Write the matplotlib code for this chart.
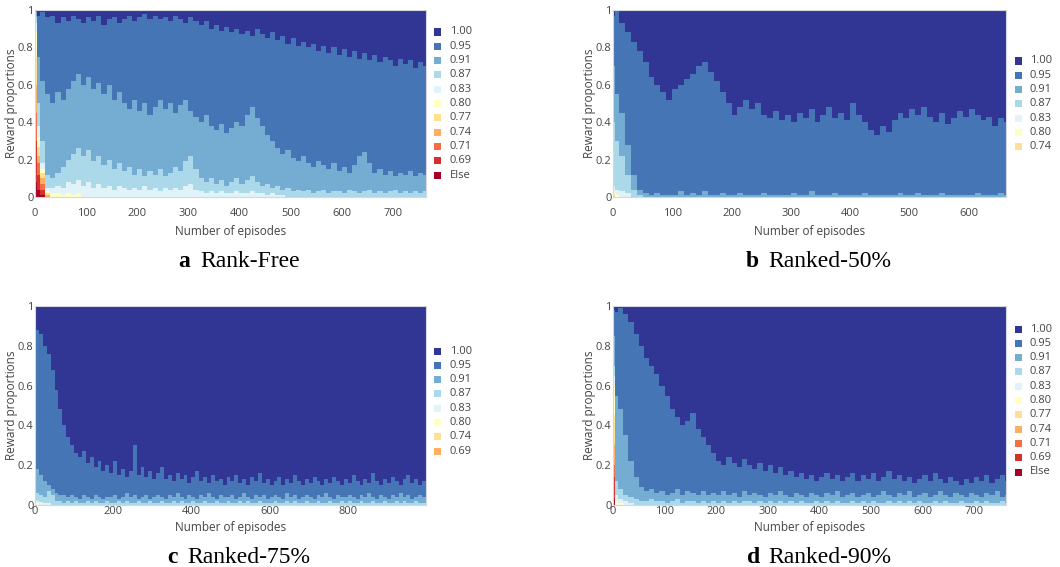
import numpy as np
import matplotlib.pyplot as plt
from matplotlib.patches import Rectangle

W, H = 1060, 567

# colour of each reward level, highest reward first (same order as legend)
PALETTE = ['#313695', '#4575b4', '#74add1', '#abd9e9', '#e0f3f8', '#ffffbf',
           '#fee090', '#fdae61', '#f46d43', '#d73027', '#a50026']

# ---------------- a : Rank-Free ----------------
a_levels = ['1.00', '0.95', '0.91', '0.87', '0.83', '0.80', '0.77', '0.74', '0.71', '0.69', 'Else']
a_episodes = [0, 3] + list(range(10, 770, 10))
# cumulative proportion of rewards at or below each level
a_le_095 = [1.00, 0.97, 0.99, 0.96, 0.97, 0.93, 0.96, 0.94, 0.97, 0.95,
            0.93, 0.96, 0.94, 0.97, 0.92, 0.95, 0.96, 0.93, 0.95, 0.97,
            0.94, 0.96, 0.98, 0.95, 0.97, 0.95, 0.96, 0.94, 0.97, 0.95,
            0.93, 0.96, 0.94, 0.92, 0.94, 0.90, 0.92, 0.89, 0.91, 0.88,
            0.90, 0.87, 0.89, 0.86, 0.90, 0.87, 0.85, 0.88, 0.84, 0.86,
            0.82, 0.85, 0.81, 0.83, 0.80, 0.82, 0.78, 0.81, 0.77, 0.80,
            0.76, 0.79, 0.75, 0.78, 0.74, 0.77, 0.73, 0.76, 0.72, 0.75,
            0.73, 0.70, 0.74, 0.71, 0.73, 0.69, 0.72, 0.70]
a_le_091 = [0.99, 0.75, 0.62, 0.55, 0.50, 0.56, 0.52, 0.58, 0.62, 0.66,
            0.60, 0.64, 0.58, 0.61, 0.55, 0.60, 0.52, 0.56, 0.50, 0.47,
            0.52, 0.46, 0.50, 0.44, 0.48, 0.52, 0.47, 0.50, 0.45, 0.49,
            0.52, 0.46, 0.43, 0.40, 0.44, 0.38, 0.36, 0.39, 0.34, 0.37,
            0.40, 0.38, 0.44, 0.48, 0.42, 0.38, 0.33, 0.30, 0.26, 0.23,
            0.25, 0.21, 0.19, 0.22, 0.18, 0.16, 0.19, 0.17, 0.15, 0.18,
            0.14, 0.16, 0.13, 0.17, 0.22, 0.24, 0.18, 0.13, 0.15, 0.12,
            0.14, 0.11, 0.13, 0.12, 0.14, 0.11, 0.13, 0.12]
a_le_087 = [0.96, 0.50, 0.30, 0.12, 0.10, 0.13, 0.16, 0.20, 0.23, 0.26,
            0.22, 0.25, 0.19, 0.22, 0.17, 0.20, 0.15, 0.18, 0.14, 0.16,
            0.12, 0.15, 0.11, 0.14, 0.12, 0.15, 0.11, 0.13, 0.16, 0.14,
            0.19, 0.22, 0.15, 0.10, 0.08, 0.10, 0.07, 0.09, 0.06, 0.08,
            0.10, 0.07, 0.09, 0.11, 0.08, 0.06, 0.07, 0.05, 0.06, 0.04,
            0.05, 0.03, 0.04, 0.03, 0.04, 0.02, 0.03, 0.04, 0.02, 0.03,
            0.03, 0.02, 0.04, 0.03, 0.02, 0.03, 0.04, 0.02, 0.03, 0.02,
            0.03, 0.04, 0.02, 0.03, 0.02, 0.03, 0.02, 0.03]
a_le_083 = [0.93, 0.38, 0.18, 0.05, 0.05, 0.06, 0.05, 0.08, 0.07, 0.09,
            0.06, 0.08, 0.05, 0.07, 0.05, 0.06, 0.04, 0.06, 0.05, 0.04,
            0.05, 0.04, 0.06, 0.04, 0.05, 0.03, 0.05, 0.04, 0.05, 0.04,
            0.06, 0.07, 0.04, 0.03, 0.02, 0.03, 0.02, 0.03, 0.02, 0.02,
            0.03, 0.02, 0.02, 0.03, 0.02, 0.02, 0.01, 0.02, 0.01, 0.01]
a_le_080 = [0.88, 0.32, 0.15, 0.03, 0.02, 0.02, 0.01, 0.02, 0.01, 0.02]
a_le_077 = [0.75, 0.27, 0.13, 0.02]
a_le_074 = [0.60, 0.22, 0.10, 0.01]
a_le_071 = [0.45, 0.18, 0.07]
a_le_069 = [0.30, 0.12, 0.04]
a_le_else = [0.08, 0.04, 0.01]

# ---------------- b : Ranked-50% ----------------
b_levels = ['1.00', '0.95', '0.91', '0.87', '0.83', '0.80', '0.74']
b_episodes = [0, 3] + list(range(10, 670, 10))
b_le_095 = [0.97, 1.00, 0.93, 0.88, 0.83, 0.78, 0.72, 0.64, 0.60, 0.56,
            0.52, 0.58, 0.60, 0.63, 0.66, 0.70, 0.72, 0.67, 0.62, 0.56,
            0.50, 0.44, 0.48, 0.52, 0.47, 0.50, 0.44, 0.42, 0.46, 0.41,
            0.44, 0.40, 0.45, 0.42, 0.47, 0.40, 0.44, 0.48, 0.42, 0.45,
            0.41, 0.50, 0.44, 0.40, 0.36, 0.33, 0.38, 0.35, 0.41, 0.45,
            0.42, 0.47, 0.44, 0.48, 0.43, 0.40, 0.45, 0.39, 0.42, 0.46,
            0.43, 0.47, 0.44, 0.41, 0.43, 0.38, 0.42, 0.40]
b_le_091 = [0.70, 0.55, 0.45, 0.28, 0.12, 0.04, 0.02, 0.01, 0.02, 0.01,
            0.01, 0.01, 0.03, 0.01, 0.02, 0.01, 0.03, 0.01, 0.01, 0.02,
            0.01, 0.01, 0.02, 0.01, 0.01, 0.01, 0.02, 0.01, 0.01, 0.01,
            0.01, 0.02, 0.01, 0.01, 0.03, 0.01, 0.01, 0.01, 0.02, 0.01,
            0.01, 0.01, 0.01, 0.02, 0.01, 0.01, 0.01, 0.01, 0.01, 0.02,
            0.01, 0.01, 0.02, 0.01, 0.01, 0.01, 0.02, 0.01, 0.01, 0.01,
            0.01, 0.01, 0.02, 0.01, 0.01, 0.01, 0.02, 0.01]
b_le_087 = [0.40, 0.30, 0.22, 0.12, 0.04, 0.01]
b_le_083 = [0.06, 0.04, 0.03, 0.02]
b_le_080 = [0.03, 0.01]
b_le_074 = [0.01]

# ---------------- c : Ranked-75% ----------------
c_levels = ['1.00', '0.95', '0.91', '0.87', '0.83', '0.80', '0.74', '0.69']
c_episodes = [0, 3] + list(range(10, 1000, 10))
c_le_095 = [0.90, 0.88, 0.86, 0.80, 0.76, 0.68, 0.58, 0.48, 0.40, 0.34,
            0.30, 0.26, 0.24, 0.27, 0.21, 0.24, 0.19, 0.22, 0.17, 0.20,
            0.16, 0.22, 0.15, 0.18, 0.14, 0.17, 0.30, 0.15, 0.19, 0.14,
            0.17, 0.13, 0.16, 0.19, 0.13, 0.15, 0.12, 0.16, 0.13, 0.15,
            0.11, 0.14, 0.17, 0.12, 0.14, 0.11, 0.15, 0.12, 0.13, 0.10,
            0.14, 0.12, 0.15, 0.11, 0.13, 0.10, 0.14, 0.12, 0.16, 0.11,
            0.13, 0.10, 0.12, 0.14, 0.10, 0.13, 0.11, 0.15, 0.12, 0.10,
            0.13, 0.11, 0.14, 0.12, 0.10, 0.13, 0.11, 0.14, 0.12, 0.10,
            0.13, 0.11, 0.15, 0.12, 0.10, 0.13, 0.11, 0.16, 0.12, 0.10,
            0.13, 0.11, 0.14, 0.12, 0.10, 0.13, 0.15, 0.11, 0.13, 0.10,
            0.12]
c_le_091 = [0.30, 0.18, 0.15, 0.12, 0.10, 0.08, 0.06, 0.05, 0.05, 0.04,
            0.05, 0.04, 0.03, 0.05, 0.04, 0.03, 0.05, 0.04, 0.03, 0.04,
            0.04, 0.05, 0.03, 0.04, 0.06, 0.04, 0.05, 0.03, 0.04, 0.05,
            0.03, 0.04, 0.05, 0.04, 0.03, 0.05, 0.04, 0.06, 0.04, 0.03,
            0.05, 0.04, 0.03, 0.05, 0.04, 0.06, 0.04, 0.03, 0.05, 0.04,
            0.04, 0.05, 0.03, 0.04, 0.06, 0.04, 0.03, 0.05, 0.04, 0.05,
            0.03, 0.04, 0.05, 0.04, 0.03, 0.06, 0.04, 0.05, 0.03, 0.04,
            0.05, 0.04, 0.03, 0.05, 0.04, 0.06, 0.04, 0.03, 0.05, 0.04,
            0.04, 0.05, 0.04, 0.03, 0.05, 0.04, 0.06, 0.04, 0.03, 0.05,
            0.04, 0.03, 0.05, 0.04, 0.06, 0.04, 0.05, 0.03, 0.04, 0.05,
            0.04]
c_le_087 = [0.18, 0.06, 0.05, 0.04, 0.07, 0.05, 0.02, 0.02, 0.01, 0.02,
            0.01, 0.02, 0.01, 0.01, 0.02, 0.01, 0.02, 0.01, 0.01, 0.02,
            0.01, 0.01, 0.02, 0.01, 0.02, 0.01, 0.01, 0.02, 0.01, 0.01,
            0.02, 0.01, 0.01, 0.02, 0.01, 0.01, 0.02, 0.01, 0.02, 0.01,
            0.01, 0.02, 0.01, 0.01, 0.02, 0.01, 0.01, 0.02, 0.01, 0.01,
            0.02, 0.01, 0.01, 0.02, 0.01, 0.02, 0.01, 0.01, 0.02, 0.01,
            0.01, 0.01, 0.02, 0.01, 0.01, 0.02, 0.01, 0.02, 0.01, 0.01,
            0.02, 0.01, 0.01, 0.02, 0.01, 0.01, 0.02, 0.01, 0.01, 0.02,
            0.01, 0.02, 0.01, 0.01, 0.02, 0.01, 0.01, 0.02, 0.01, 0.01,
            0.02, 0.01, 0.01, 0.02, 0.01, 0.02, 0.01, 0.01, 0.02, 0.01,
            0.01]
c_le_083 = [0.14, 0.02, 0.015, 0.01, 0.01]
c_le_080 = [0.12, 0.01]
c_le_074 = [0.05]
c_le_069 = [0.02]

# ---------------- d : Ranked-90% ----------------
d_levels = ['1.00', '0.95', '0.91', '0.87', '0.83', '0.80', '0.77', '0.74', '0.71', '0.69', 'Else']
d_episodes = [0, 3] + list(range(10, 770, 10))
d_le_095 = [0.98, 0.97, 0.99, 0.96, 0.92, 0.86, 0.80, 0.74, 0.70, 0.66,
            0.60, 0.55, 0.48, 0.44, 0.40, 0.42, 0.46, 0.38, 0.34, 0.30,
            0.26, 0.22, 0.20, 0.24, 0.21, 0.19, 0.23, 0.20, 0.18, 0.21,
            0.17, 0.20, 0.16, 0.19, 0.15, 0.17, 0.14, 0.16, 0.13, 0.15,
            0.12, 0.14, 0.16, 0.13, 0.15, 0.12, 0.14, 0.16, 0.12, 0.15,
            0.13, 0.16, 0.12, 0.14, 0.17, 0.13, 0.15, 0.12, 0.14, 0.11,
            0.13, 0.15, 0.12, 0.16, 0.13, 0.11, 0.14, 0.12, 0.10, 0.13,
            0.11, 0.14, 0.12, 0.15, 0.11, 0.13, 0.15, 0.12]
d_le_091 = [0.85, 0.55, 0.48, 0.35, 0.22, 0.14, 0.09, 0.07, 0.08, 0.06,
            0.07, 0.05, 0.06, 0.08, 0.05, 0.07, 0.06, 0.05, 0.07, 0.05,
            0.06, 0.05, 0.07, 0.05, 0.06, 0.04, 0.07, 0.05, 0.06, 0.05,
            0.04, 0.06, 0.05, 0.07, 0.05, 0.04, 0.06, 0.05, 0.04, 0.06,
            0.05, 0.04, 0.06, 0.05, 0.07, 0.04, 0.05, 0.06, 0.04, 0.05,
            0.06, 0.04, 0.05, 0.07, 0.05, 0.04, 0.06, 0.05, 0.07, 0.04,
            0.05, 0.06, 0.04, 0.05, 0.07, 0.05, 0.04, 0.06, 0.05, 0.04,
            0.06, 0.05, 0.04, 0.06, 0.05, 0.07, 0.04, 0.05]
d_le_087 = [0.70, 0.12, 0.08, 0.05, 0.04, 0.03, 0.02, 0.02, 0.03, 0.02,
            0.02, 0.01, 0.02, 0.03, 0.01, 0.02, 0.02, 0.01, 0.02, 0.01,
            0.02, 0.01, 0.02, 0.01, 0.02, 0.01, 0.02, 0.02, 0.01, 0.02,
            0.01, 0.02, 0.01, 0.02, 0.01, 0.02, 0.01, 0.02, 0.01, 0.01,
            0.02, 0.01, 0.02, 0.01, 0.02, 0.01, 0.01, 0.02, 0.01, 0.02,
            0.01, 0.02, 0.01, 0.01, 0.02, 0.01, 0.02, 0.01, 0.02, 0.01,
            0.02, 0.01, 0.01, 0.02, 0.01, 0.02, 0.01, 0.01, 0.02, 0.01,
            0.01, 0.02, 0.01, 0.02, 0.01, 0.01, 0.02, 0.01]
d_le_083 = [0.65, 0.05, 0.03, 0.02, 0.01]
d_le_080 = [0.60, 0.02, 0.01]
d_le_077 = [0.45]
d_le_074 = [0.30]
d_le_071 = [0.20]
d_le_069 = [0.14]
d_le_else = [0.03]


def px(x, y):
    # pixel position (from top-left) -> figure fraction
    return x / W, 1 - y / H


def draw_panel(ax, episodes, xmax, cum_low_to_high, n_levels):
    n = len(episodes)
    rows = [np.pad(np.asarray(r, float), (0, n - len(r))) for r in cum_low_to_high]
    cum = np.vstack(rows + [np.ones(n)])
    cum = np.maximum.accumulate(cum, axis=0)
    x = np.append(episodes, xmax)
    colors = PALETTE[:n_levels]  # highest level first
    # paint from the top level down so that the bands never leave seams
    for i in range(n_levels):
        top = cum[n_levels - 1 - i]
        ax.fill_between(x, 0, np.append(top, top[-1]), step='post',
                        color=colors[i], linewidth=0)
    ax.set_xlim(0, xmax)
    ax.set_ylim(0, 1)
    ax.set_yticks([0, 0.2, 0.4, 0.6, 0.8, 1])
    ax.set_yticklabels(['0', '0.2', '0.4', '0.6', '0.8', '1'])
    for s in ax.spines.values():
        s.set_color('#d6d6e0')
        s.set_linewidth(0.8)


def draw_legend(fig, x_sq, x_txt, y_first, levels):
    step = 14.3
    sq = 7
    for i, lab in enumerate(levels):
        yc = y_first + i * step
        fx, fy = px(x_sq, yc + sq / 2)
        fig.patches.append(Rectangle((fx, fy), sq / W, sq / H, transform=fig.transFigure,
                                     color=PALETTE[i], linewidth=0))
        tx, ty = px(x_txt, yc)
        fig.text(tx, ty, lab, fontsize=8, color='#444444', va='center', ha='left')


plt.rcParams['font.family'] = ['Open Sans', 'DejaVu Sans']
fig = plt.figure(figsize=(W / 100, H / 100), dpi=100)

# axes boxes in pixels: left, top, right, bottom
boxes = {
    'a': (35, 10, 426, 197),
    'b': (613, 10, 1006, 197),
    'c': (35, 306, 426, 505),
    'd': (613, 306, 1006, 505),
}

panels = [
    ('a', a_episodes, 765, [a_le_else, a_le_069, a_le_071, a_le_074, a_le_077, a_le_080,
                            a_le_083, a_le_087, a_le_091, a_le_095], a_levels,
     [0, 100, 200, 300, 400, 500, 600, 700]),
    ('b', b_episodes, 663, [b_le_074, b_le_080, b_le_083, b_le_087, b_le_091, b_le_095],
     b_levels, [0, 100, 200, 300, 400, 500, 600]),
    ('c', c_episodes, 1000, [c_le_069, c_le_074, c_le_080, c_le_083, c_le_087, c_le_091,
                             c_le_095], c_levels, [0, 200, 400, 600, 800]),
    ('d', d_episodes, 762, [d_le_else, d_le_069, d_le_071, d_le_074, d_le_077, d_le_080,
                            d_le_083, d_le_087, d_le_091, d_le_095], d_levels,
     [0, 100, 200, 300, 400, 500, 600, 700]),
]

legend_pos = {'a': (434, 450, 32), 'b': (1015, 1030, 61),
              'c': (434, 450, 351), 'd': (1015, 1030, 329)}
captions = {'a': ('a', 'Rank-Free', 190, 200, 267),
            'b': ('b', 'Ranked-50%', 759, 768, 267),
            'c': ('c', 'Ranked-75%', 178, 187, 563),
            'd': ('d', 'Ranked-90%', 760, 768, 563)}

for key, eps, xmax, cum, levels, xticks in panels:
    l, t, r, b = boxes[key]
    ax = fig.add_axes([l / W, 1 - b / H, (r - l) / W, (b - t) / H])
    draw_panel(ax, eps, xmax, cum, len(levels))
    ax.set_xticks(xticks)
    top_row = key in ('a', 'b')
    ax.tick_params(axis='x', length=0, labelsize=8, colors='#444444', pad=8 if top_row else 0.5)
    ax.tick_params(axis='y', length=0, labelsize=8, colors='#444444', pad=1)

    # axis titles
    cx = (l + r) / 2
    fig.text(*px(cx, 231 if top_row else 528), 'Number of episodes', fontsize=8.5,
             color='#444444', ha='center', va='center')
    fig.text(*px(l - 23, (t + b) / 2), 'Reward proportions', fontsize=8.5,
             color='#444444', ha='center', va='center', rotation=90)

    xs, xt, yf = legend_pos[key]
    draw_legend(fig, xs, xt, yf, levels)

    letter, name, xl, xn, yb = captions[key]
    fig.text(*px(xl, yb), letter, fontsize=17, fontweight='bold', ha='right',
             va='baseline', family='Liberation Serif')
    fig.text(*px(xn, yb), name, fontsize=17, ha='left', va='baseline',
             family='Liberation Serif')

fig.savefig('out.png', dpi=100)
